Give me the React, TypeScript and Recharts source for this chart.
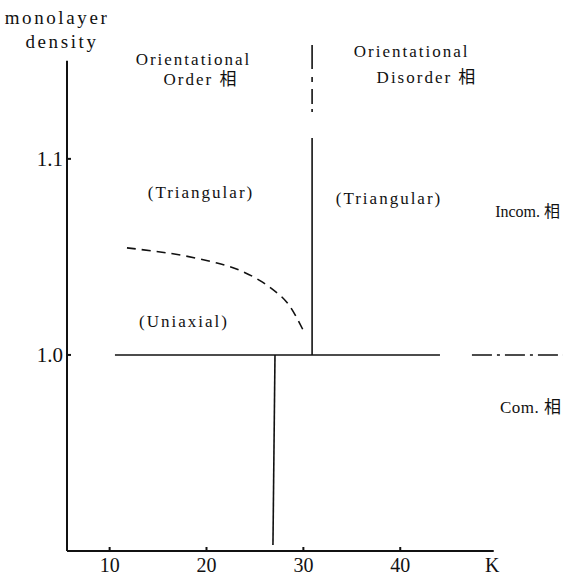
import React from 'react';
import { LineChart, Line, XAxis, YAxis, ReferenceLine, ReferenceDot } from 'recharts';

// temperature ticks (K) and density ticks
const kTicks = [10, 20, 30, 40];
const densityTicks = [1.0, 1.1];

// phase boundaries
const comBoundaryK = [10.55, 44.1];
const comBoundaryDensity = [1.0, 1.0];

const comBoundaryHighK = [47.4, 56.8];
const comBoundaryHighDensity = [1.0, 1.0];

const orderBoundaryK = [30.9, 30.9];
const orderBoundaryDensity = [1.0, 1.1107];

const orderBoundaryUpperK = [30.9, 30.9];
const orderBoundaryUpperDensity = [1.1239, 1.1581];

const lowBoundaryK = [27.07, 26.86];
const lowBoundaryDensity = [1.0, 0.9031];

const uniaxialK = [11.79, 14.48, 17.57, 21.08, 23.46, 25.52, 27.28, 28.62, 29.96];
const uniaxialDensity = [1.0546, 1.053, 1.0507, 1.0469, 1.0431, 1.0379, 1.0317, 1.0247, 1.0128];

const zip = (xs: number[], ys: number[]) => xs.map((x, i) => ({ x, y: ys[i] }));

const FONT = '"Liberation Serif", "Noto Sans CJK JP", serif';

// text labels on the diagram
const labels = [
  { text: 'monolayer', x: 4.57, y: 1.1719, anchor: 'middle', size: 19, spacing: 2.6 },
  { text: 'density', x: 5.08, y: 1.1596, anchor: 'middle', size: 19, spacing: 2.6 },
  { text: 'Orientational', x: 18.66, y: 1.1505, anchor: 'middle', size: 17, spacing: 2 },
  { text: 'Order 相', x: 19.43, y: 1.1403, anchor: 'middle', size: 17, spacing: 2 },
  { text: 'Orientational', x: 41.18, y: 1.1545, anchor: 'middle', size: 17, spacing: 2 },
  { text: 'Disorder 相', x: 42.76, y: 1.1413, anchor: 'middle', size: 17, spacing: 2 },
  { text: '(Triangular)', x: 19.43, y: 1.0826, anchor: 'middle', size: 17, spacing: 2 },
  { text: '(Triangular)', x: 38.84, y: 1.0796, anchor: 'middle', size: 17, spacing: 2 },
  { text: '(Uniaxial)', x: 17.68, y: 1.0168, anchor: 'middle', size: 17, spacing: 2 },
  { text: 'Incom. 相', x: 49.8, y: 1.0729, anchor: 'start', size: 16, spacing: 0 },
  { text: 'Com. 相', x: 50.3, y: 0.973, anchor: 'start', size: 17, spacing: 0.5 },
  { text: 'K', x: 49.5, y: 0.8929, anchor: 'middle', size: 20, spacing: 0 },
];

const XTick = ({ x, y, payload }: any) => (
  <g>
    <line x1={x} x2={x} y1={y} y2={y - 4} stroke="#111" strokeWidth={2} />
    <text x={x} y={y + 14} textAnchor="middle" dominantBaseline="central" fontSize={20} fontFamily={FONT} fill="#111">
      {payload.value}
    </text>
  </g>
);

const YTick = ({ x, y, payload }: any) => (
  <g>
    <line x1={x} x2={x + 4} y1={y} y2={y} stroke="#111" strokeWidth={2} />
    <text x={x - 4} y={y} textAnchor="end" dominantBaseline="central" fontSize={21} fontFamily={FONT} fill="#111">
      {payload.value.toFixed(1)}
    </text>
  </g>
);

const lineProps = {
  dataKey: 'y',
  stroke: '#111',
  strokeWidth: 1.6,
  dot: false,
  activeDot: false,
  isAnimationActive: false,
};

export default function App() {
  return (
    <div style={{ position: 'absolute', left: 0, top: 0 }}>
      <LineChart width={563} height={575} margin={{ top: 2, right: 0, bottom: 0, left: 0 }}>
        <XAxis
          type="number"
          dataKey="x"
          domain={[5.6, 56.8]}
          ticks={kTicks}
          allowDataOverflow
          axisLine={false}
          tickLine={false}
          tickSize={0}
          tickMargin={0}
          height={24}
          tick={<XTick />}
        />
        <YAxis
          type="number"
          domain={[0.9, 1.18]}
          ticks={densityTicks}
          allowDataOverflow
          axisLine={false}
          tickLine={false}
          tickSize={0}
          tickMargin={0}
          width={67}
          tick={<YTick />}
        />
        <ReferenceLine segment={[{ x: 5.6, y: 0.9 }, { x: 49.65, y: 0.9 }]} stroke="#111" strokeWidth={2} ifOverflow="visible" />
        <ReferenceLine segment={[{ x: 5.6, y: 0.9 }, { x: 5.6, y: 1.15 }]} stroke="#111" strokeWidth={2} ifOverflow="visible" />

        <Line {...lineProps} type="linear" data={zip(comBoundaryK, comBoundaryDensity)} />
        <Line {...lineProps} type="linear" data={zip(comBoundaryHighK, comBoundaryHighDensity)} strokeDasharray="20 5 3 5" />
        <Line {...lineProps} type="linear" data={zip(orderBoundaryK, orderBoundaryDensity)} />
        <Line {...lineProps} type="linear" data={zip(orderBoundaryUpperK, orderBoundaryUpperDensity)} strokeDasharray="3 5 15 7 5 8 30" />
        <Line {...lineProps} type="linear" data={zip(lowBoundaryK, lowBoundaryDensity)} />
        <Line {...lineProps} type="natural" data={zip(uniaxialK, uniaxialDensity)} strokeDasharray="9 6" />

        {labels.map((l, i) => (
          <ReferenceDot
            key={i}
            x={l.x}
            y={l.y}
            r={0}
            ifOverflow="visible"
            shape={(p: any) => (
              <text
                x={p.cx}
                y={p.cy}
                textAnchor={l.anchor as any}
                dominantBaseline="central"
                fontSize={l.size}
                letterSpacing={l.spacing}
                fontFamily={FONT}
                fill="#111"
              >
                {l.text}
              </text>
            )}
          />
        ))}
      </LineChart>
    </div>
  );
}
